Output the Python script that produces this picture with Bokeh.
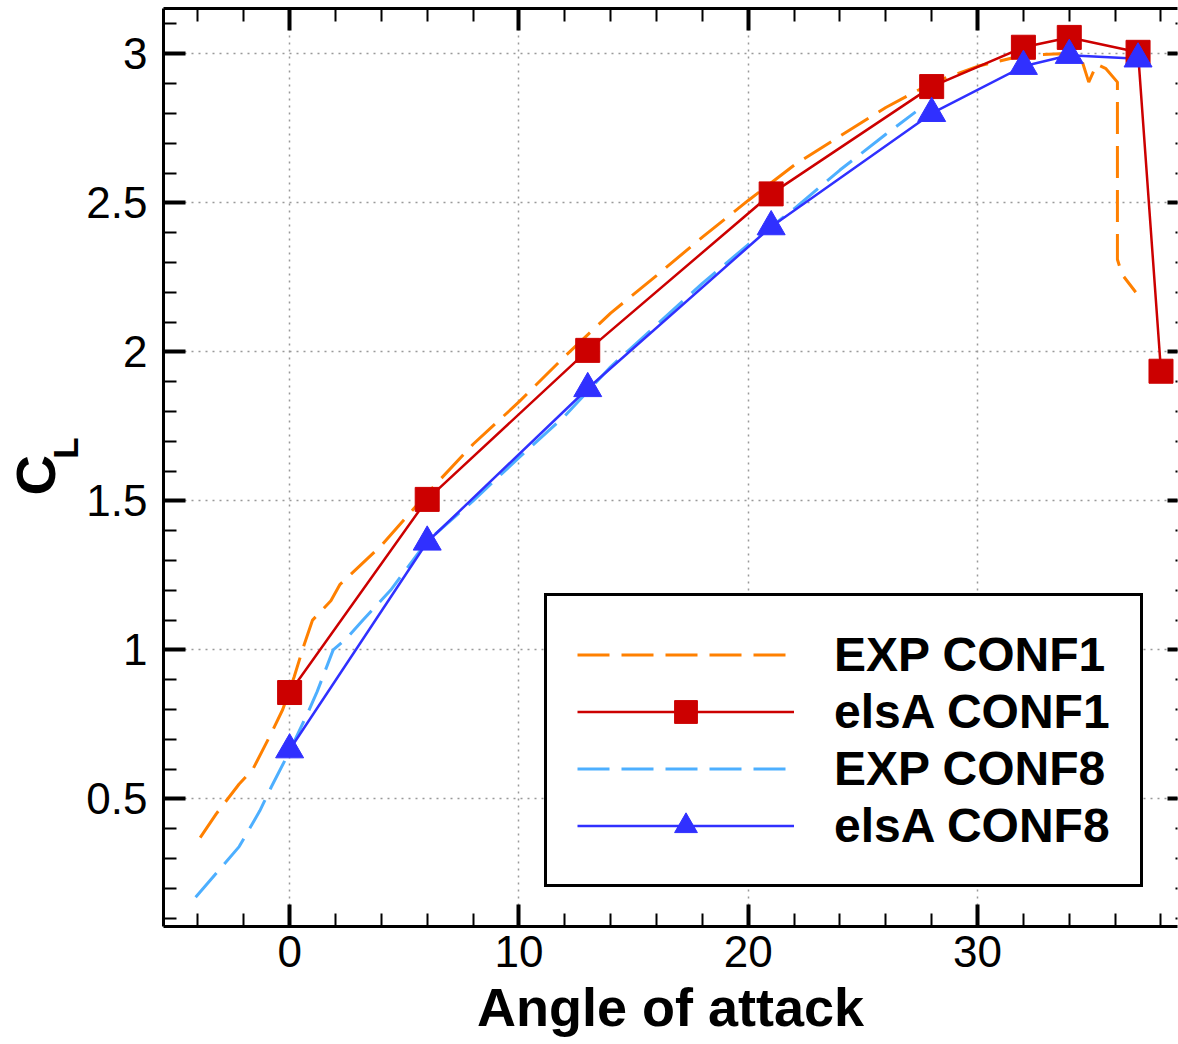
from bokeh.plotting import figure
from bokeh.models import (Range1d, LinearAxis, SingleIntervalTicker, FixedTicker, Legend,
                          LegendItem, CustomJSTickFormatter)
from bokeh.embed import file_html
from bokeh.resources import INLINE

# ---------------- data ----------------
exp1_alpha = [-3.9, -3.2, -2.2, -1.6, -0.8, -0.3, 0.2, 0.6, 1.0, 1.8, 2.2, 4.0, 6.0, 8.0,
              10.0, 12.0, 14.0, 16.0, 18.0, 20.0, 22.0, 24.0, 26.0, 28.0, 30.0, 32.0,
              33.6, 34.5, 34.85, 35.2, 35.6, 36.1, 36.1, 36.3, 36.9]
exp1_cl = [0.37, 0.45, 0.55, 0.60, 0.72, 0.80, 0.91, 1.01, 1.10, 1.165, 1.22, 1.35, 1.525, 1.69,
           1.832, 1.985, 2.13, 2.256, 2.385, 2.508, 2.626, 2.724, 2.82, 2.902, 2.958, 2.995,
           3.0, 2.99, 2.905, 2.965, 2.95, 2.905, 2.31, 2.26, 2.2]

els1_alpha = [0, 6, 13, 21, 28, 32, 34, 37, 38]
els1_cl = [0.857, 1.505, 2.005, 2.53, 2.89, 3.022, 3.055, 3.005, 1.935]

exp8_alpha = [-4.1, -2.2, -1.3, -0.8, 0.0, 0.8, 1.2, 1.9, 2.5, 3.2, 4.4, 6.0, 8.0, 10.0,
              12.0, 14.0, 16.0, 18.0, 20.0, 22.0, 24.0, 26.0, 27.3]
exp8_cl = [0.17, 0.34, 0.46, 0.54, 0.66, 0.79, 0.86, 1.0, 1.04, 1.10, 1.20, 1.365, 1.50, 1.645,
           1.785, 1.95, 2.09, 2.23, 2.36, 2.48, 2.61, 2.73, 2.805]

els8_alpha = [0, 6, 13, 21, 28, 32, 34, 37]
els8_cl = [0.665, 1.362, 1.877, 2.42, 2.80, 2.958, 2.995, 2.983]

labels = ["EXP CONF1", "elsA CONF1", "EXP CONF8", "elsA CONF8"]
x_title = "Angle of attack"
y_title_main = "C"
y_title_sub = "L"

NB = "\u00a0"
FONT = "Liberation Sans"

# ---------------- figure ----------------
p = figure(frame_width=1014, frame_height=918, output_backend="svg", toolbar_location=None,
           x_range=Range1d(-5.5, 38.72), y_range=Range1d(0.072, 3.152),
           min_border_left=163, min_border_right=1, min_border_top=8, min_border_bottom=0,
           x_axis_location=None, y_axis_location=None)
p.outline_line_color = None
p.background_fill_color = "white"

xt = SingleIntervalTicker(interval=10, num_minor_ticks=5)
yt = SingleIntervalTicker(interval=0.5, num_minor_ticks=5)
fmt = CustomJSTickFormatter(code="return String(Math.round(tick*10)/10);")
blank = CustomJSTickFormatter(code="return '';")


def style_axis(ax):
    ax.axis_line_width = 3
    ax.axis_line_color = "black"
    ax.major_tick_in = 22
    ax.major_tick_out = 0
    ax.minor_tick_in = 13
    ax.minor_tick_out = 0
    ax.major_tick_line_width = 4
    ax.minor_tick_line_width = 2
    ax.major_tick_line_color = "black"
    ax.minor_tick_line_color = "black"
    ax.major_label_text_font = FONT
    ax.major_label_text_font_size = "44px"
    ax.major_label_text_color = "black"


# bottom axis
xb = LinearAxis(ticker=xt, formatter=fmt)
style_axis(xb)
xb.major_label_standoff = 9
xb.axis_label = x_title
xb.axis_label_text_font = FONT
xb.axis_label_text_font_style = "bold"
xb.axis_label_text_font_size = "54px"
xb.axis_label_text_color = "black"
xb.axis_label_standoff = 7
p.add_layout(xb, "below")

# top axis (ticks only)
xa = LinearAxis(ticker=xt, formatter=blank)
style_axis(xa)
xa.major_label_standoff = 0
p.add_layout(xa, "above")

# left axis (with subscript "L" as its title)
yl = LinearAxis(ticker=yt, formatter=fmt)
style_axis(yl)
yl.major_label_standoff = 16
yl.axis_label = NB * 4 + y_title_sub
yl.axis_label_text_font = FONT
yl.axis_label_text_font_style = "bold"
yl.axis_label_text_font_size = "35px"
yl.axis_label_text_color = "black"
yl.axis_label_standoff = -2
p.add_layout(yl, "left")

# outer left axis carrying only the main "C" of the title
yc = LinearAxis(ticker=FixedTicker(ticks=[]), formatter=blank)
yc.axis_line_color = None
yc.major_tick_line_color = None
yc.minor_tick_line_color = None
yc.major_tick_in = 0
yc.major_tick_out = 0
yc.minor_tick_in = 0
yc.minor_tick_out = 0
yc.major_label_standoff = 0
yc.axis_label = y_title_main + NB
yc.axis_label_text_font = FONT
yc.axis_label_text_font_style = "bold"
yc.axis_label_text_font_size = "56px"
yc.axis_label_text_color = "black"
yc.axis_label_standoff = -23
p.add_layout(yc, "left")

# right axis (ticks only; the frame edge is cropped in the reference)
yr = LinearAxis(ticker=yt, formatter=blank)
style_axis(yr)
yr.axis_line_color = None
yr.major_tick_in = 10
yr.minor_tick_in = 2
yr.major_label_standoff = 0
p.add_layout(yr, "right")

p.xgrid.ticker = xt
p.ygrid.ticker = yt
for g in (p.xgrid, p.ygrid):
    g.grid_line_color = "#999999"
    g.grid_line_width = 1.5
    g.grid_line_dash = "2 5"

# ---------------- series ----------------
r_exp1 = p.line(exp1_alpha, exp1_cl, line_color="#FF8000", line_width=3, line_dash="32 12")
r_exp8 = p.line(exp8_alpha, exp8_cl, line_color="#4DAFFF", line_width=3, line_dash="32 12")
r_els1_l = p.line(els1_alpha, els1_cl, line_color="#CC0000", line_width=2.5)
r_els8_l = p.line(els8_alpha, els8_cl, line_color="#3030FF", line_width=2.5)
r_els1_m = p.scatter(els1_alpha, els1_cl, marker="square", size=24, fill_color="#CC0000",
                     line_color="#CC0000")
r_els8_m = p.scatter(els8_alpha, els8_cl, marker="triangle", size=28, fill_color="#3030FF",
                     line_color="#3030FF")

legend = Legend(items=[
    LegendItem(label=labels[0], renderers=[r_exp1]),
    LegendItem(label=labels[1], renderers=[r_els1_l, r_els1_m]),
    LegendItem(label=labels[2], renderers=[r_exp8]),
    LegendItem(label=labels[3], renderers=[r_els8_l, r_els8_m]),
], location=(381, 39))
legend.label_text_font = FONT
legend.label_text_font_style = "bold"
legend.label_text_font_size = "48px"
legend.label_text_color = "black"
legend.glyph_width = 217
legend.glyph_height = 57
legend.label_height = 57
legend.label_standoff = 40
legend.spacing = 0
legend.padding = 30
legend.margin = 0
legend.border_line_color = "black"
legend.border_line_alpha = 1.0
legend.border_line_width = 3
legend.background_fill_color = "white"
legend.background_fill_alpha = 1.0
p.add_layout(legend, "center")

open("out.html", "w").write(file_html(p, INLINE))
